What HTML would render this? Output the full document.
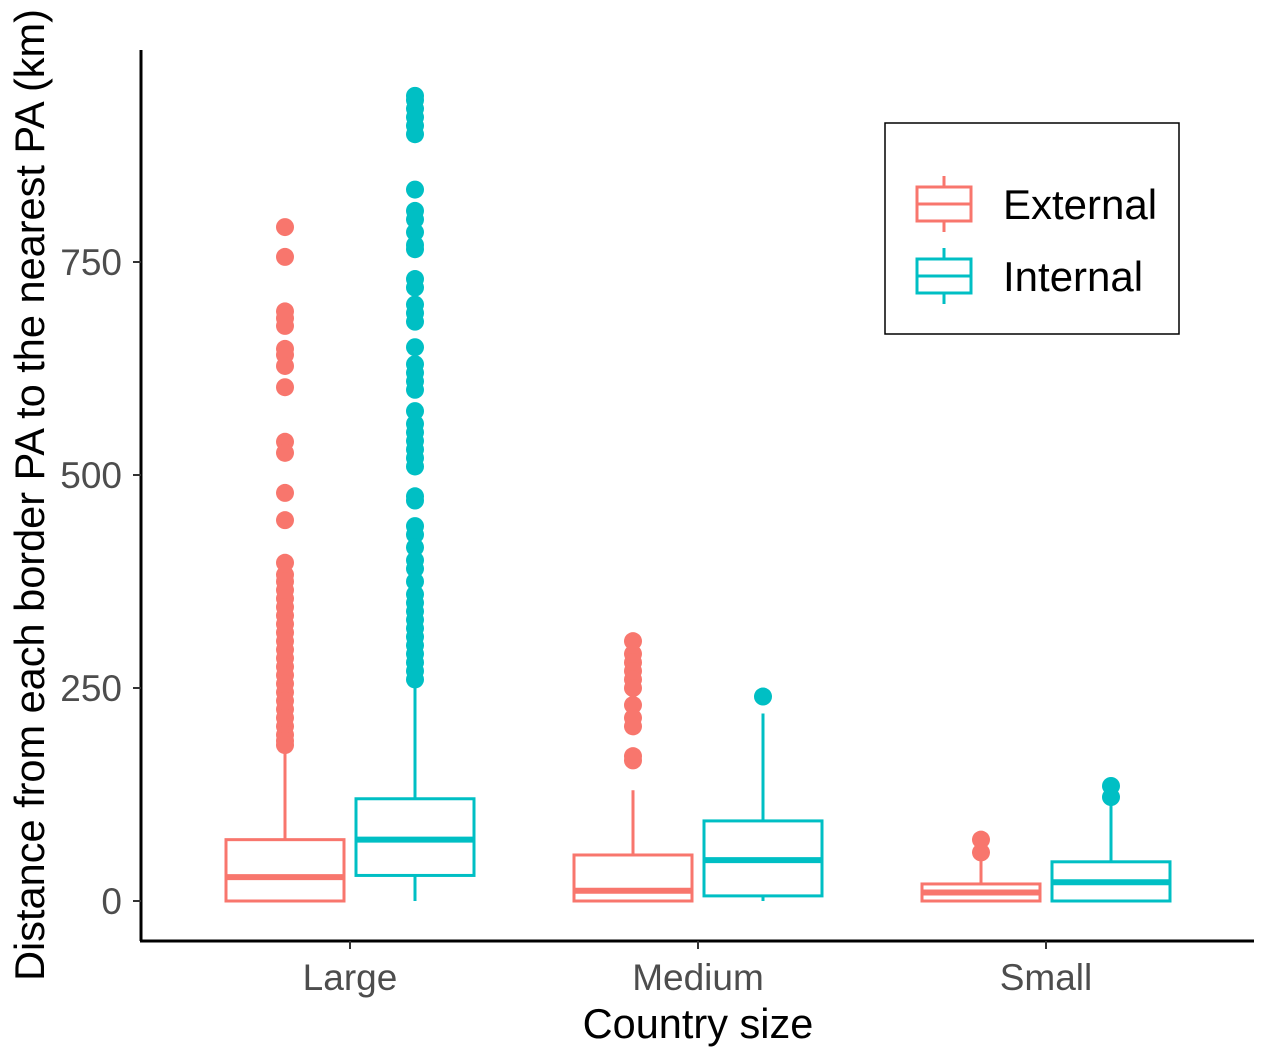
<!DOCTYPE html>
<html><head><meta charset="utf-8"><style>
body{margin:0;background:#fff;}
svg text{font-family:"Liberation Sans",Arial,sans-serif;}
</style></head><body>
<svg id="chart" width="1265" height="1055" xmlns="http://www.w3.org/2000/svg">
<g id="plot"></g>
<text x="698" y="1038" font-size="41.5" text-anchor="middle" fill="#000">Country size</text>
<text transform="translate(44,495) rotate(-90)" font-size="41.5" text-anchor="middle" fill="#000">Distance from each border PA to the nearest PA (km)</text>
<g>
<rect x="885" y="123" width="294" height="211" fill="#fff" stroke="#000" stroke-width="1.5"/>
<g>
<line x1="944" y1="176" x2="944" y2="232" stroke="#F8766D" stroke-width="3"/>
<rect x="917" y="187" width="54" height="34" fill="#fff" stroke="#F8766D" stroke-width="3"/>
<line x1="917" y1="204" x2="971" y2="204" stroke="#F8766D" stroke-width="3"/>
<text x="1003" y="219" font-size="42" fill="#000">External</text></g>
<g>
<line x1="944" y1="248" x2="944" y2="304" stroke="#00BFC4" stroke-width="3"/>
<rect x="917" y="259" width="54" height="34" fill="#fff" stroke="#00BFC4" stroke-width="3"/>
<line x1="917" y1="276" x2="971" y2="276" stroke="#00BFC4" stroke-width="3"/>
<text x="1003" y="291" font-size="42" fill="#000">Internal</text></g>
</g>
</svg>
<script>
const categories=["Large","Medium","Small"];
const groups=["External","Internal"];
const colors=["#F8766D","#00BFC4"];
// [lowWhisker, q1, median, q3, highWhisker]
const externalStats=[[0,0,28,72,180],[0,0,12,54,130],[0,0,10,20,50]];
const internalStats=[[0,30,72,120,258],[0,6,48,94,220],[0,0,22,46,118]];
const externalOutliers=[[791,756,692,684,675,648,641,628,603,539,526,479,447,397,383,375,365,355,345,335,325,315,305,295,285,275,265,255,245,235,225,215,205,195,188,183],
[305,290,280,270,260,250,230,215,205,170,165],[72,57]];
const internalOutliers=[[945,940,930,920,910,900,835,810,800,785,770,765,730,720,700,690,680,650,630,620,610,600,575,560,550,540,530,520,510,475,470,440,430,415,400,390,375,360,350,340,330,320,310,300,290,280,270,260],
[240],[135,122]];
const yTicks=[0,250,500,750];
const NS="http://www.w3.org/2000/svg";
const plot=document.getElementById('plot');
const y=v=>901-v*0.852;
const x=i=>350+i*348;
function mk(t,a,p){const e=document.createElementNS(NS,t);for(const k in a)e.setAttribute(k,a[k]);(p||plot).appendChild(e);return e;}
let ax=mk('line',{x1:141,y1:50,x2:141,y2:941,stroke:'#000','stroke-width':3});


let bx=mk('line',{x1:140,y1:941,x2:1254,y2:941,stroke:'#000','stroke-width':3});


yTicks.forEach(v=>{
 mk('line',{x1:133,y1:y(v),x2:141,y2:y(v),stroke:'#333','stroke-width':2});
 const t=mk('text',{x:122,y:y(v)+13,'font-size':37,'text-anchor':'end',fill:'#4d4d4d'});
 t.textContent=v;
 
 
});
categories.forEach((c,i)=>{
 mk('line',{x1:x(i),y1:941,x2:x(i),y2:949,stroke:'#333','stroke-width':2});
 const t=mk('text',{x:x(i),y:990,'font-size':37,'text-anchor':'middle',fill:'#4d4d4d'});
 t.textContent=c;
 
 
});
const stats=[externalStats,internalStats];
const outs=[externalOutliers,internalOutliers];
categories.forEach((c,i)=>{
 groups.forEach((g,j)=>{
  const s=stats[j][i],col=colors[j];
  const cx=x(i)+(j?65:-65),hw=59;
  const grp=mk('g',{});
  
  
  mk('line',{x1:cx,y1:y(s[4]),x2:cx,y2:y(s[3]),stroke:col,'stroke-width':3},grp);
  mk('line',{x1:cx,y1:y(s[1]),x2:cx,y2:y(s[0]),stroke:col,'stroke-width':3},grp);
  mk('rect',{x:cx-hw,y:y(s[3]),width:2*hw,height:y(s[1])-y(s[3]),fill:'#fff',stroke:col,'stroke-width':3},grp);
  mk('line',{x1:cx-hw,y1:y(s[2]),x2:cx+hw,y2:y(s[2]),stroke:col,'stroke-width':6},grp);
  outs[j][i].forEach(v=>{
   const p=mk('circle',{cx:cx,cy:y(v),r:9,fill:col},grp);
   
   
  });
 });
});
</script>
</body></html>
